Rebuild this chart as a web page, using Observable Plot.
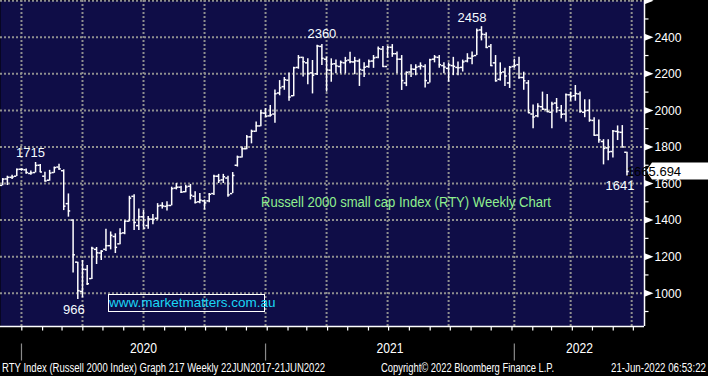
<!DOCTYPE html>
<html><head><meta charset="utf-8">
<script src="https://cdn.jsdelivr.net/npm/d3@7"></script>
<script src="https://cdn.jsdelivr.net/npm/@observablehq/plot@0.6"></script>
<style>
html,body{margin:0;padding:0;background:#000;}
#wrap{position:relative;width:708px;height:376px;overflow:hidden;background:#000;font-family:"Liberation Sans",Arial,sans-serif;}
#wrap svg{position:absolute;left:0;top:0;}
.ov{position:absolute;white-space:nowrap;line-height:1;transform-origin:0 0;}
</style></head><body>
<div id="wrap"></div>
<script>
// ---------- DATA (weekly OHLC, Russell 2000 RTY) ----------
const weekEnding = [
"2019-11-29","2019-12-06","2019-12-13","2019-12-20","2019-12-27",
"2020-01-03","2020-01-10","2020-01-17","2020-01-24","2020-01-31","2020-02-07","2020-02-14","2020-02-21","2020-02-28",
"2020-03-06","2020-03-13","2020-03-20","2020-03-27","2020-04-03","2020-04-10","2020-04-17","2020-04-24","2020-05-01",
"2020-05-08","2020-05-15","2020-05-22","2020-05-29","2020-06-05","2020-06-12","2020-06-19","2020-06-26","2020-07-03",
"2020-07-10","2020-07-17","2020-07-24","2020-07-31","2020-08-07","2020-08-14","2020-08-21","2020-08-28","2020-09-04",
"2020-09-11","2020-09-18","2020-09-25","2020-10-02","2020-10-09","2020-10-16","2020-10-23","2020-10-30","2020-11-06",
"2020-11-13","2020-11-20","2020-11-27","2020-12-04","2020-12-11","2020-12-18","2020-12-25",
"2021-01-01","2021-01-08","2021-01-15","2021-01-22","2021-01-29","2021-02-05","2021-02-12","2021-02-19","2021-02-26",
"2021-03-05","2021-03-12","2021-03-19","2021-03-26","2021-04-02","2021-04-09","2021-04-16","2021-04-23","2021-04-30",
"2021-05-07","2021-05-14","2021-05-21","2021-05-28","2021-06-04","2021-06-11","2021-06-18","2021-06-25","2021-07-02",
"2021-07-09","2021-07-16","2021-07-23","2021-07-30","2021-08-06","2021-08-13","2021-08-20","2021-08-27","2021-09-03",
"2021-09-10","2021-09-17","2021-09-24","2021-10-01","2021-10-08","2021-10-15","2021-10-22","2021-10-29","2021-11-05",
"2021-11-12","2021-11-19","2021-11-26","2021-12-03","2021-12-10","2021-12-17","2021-12-24","2021-12-31",
"2022-01-07","2022-01-14","2022-01-21","2022-01-28","2022-02-04","2022-02-11","2022-02-18","2022-02-25","2022-03-04",
"2022-03-11","2022-03-18","2022-03-25","2022-04-01","2022-04-08","2022-04-15","2022-04-22","2022-04-29","2022-05-06",
"2022-05-13","2022-05-20","2022-05-27","2022-06-03","2022-06-10","2022-06-17"];

const openPx = [
1590,1625,1634,1640,1678,
1675,1655,1660,1700,1640,1618,1660,1690,1670,1490,1400,1170,1010,1130,1080,1240,1220,1240,1260,1310,1270,1330,
1394,1530,1370,1418,1370,1405,1410,1480,1475,1480,1575,1580,1555,1585,1530,1500,1505,1505,1545,1640,1620,1630,
1545,1700,1745,1790,1855,1886,1915,1985,
1970,1980,2095,2130,2165,2080,2235,2290,2260,2205,2200,2350,2280,2220,2255,2240,2260,2275,2265,2270,2220,2240,
2270,2290,2335,2240,2345,2310,2280,2150,2210,2225,2240,2240,2150,2280,2290,2245,2230,2245,2235,2235,2270,2285,
2300,2440,2415,2350,2260,2170,2210,2150,2240,
2250,2180,2150,1980,1970,2020,2005,1990,2040,2000,1980,2085,2080,2090,1990,2000,1945,1865,1830,1795,1775,1885,1880,1771];

const highPx = [
1627,1640,1645,1680,1680,
1679,1668,1715,1704,1662,1672,1690,1706,1675,1543,1400,1170,1179,1152,1252,1250,1233,1350,1335,1325,1352,1395,
1530,1538,1461,1453,1420,1430,1490,1495,1500,1580,1600,1585,1590,1595,1555,1545,1510,1545,1645,1650,1650,1640,
1660,1750,1800,1863,1892,1936,1999,2010,
2027,2112,2163,2180,2205,2236,2300,2291,2282,2273,2356,2360,2291,2282,2275,2270,2290,2318,2290,2280,2260,2275,
2300,2346,2350,2350,2360,2320,2300,2210,2250,2250,2260,2250,2280,2300,2300,2260,2260,2290,2265,2275,2310,2320,
2445,2458,2425,2360,2300,2260,2230,2240,2280,
2291,2209,2163,2030,2036,2100,2087,2045,2065,2027,2090,2100,2136,2100,2058,2058,1960,1948,1840,1839,1890,1915,1917,1771];

const lowPx = [
1588,1589,1622,1638,1667,
1651,1645,1658,1660,1609,1613,1656,1672,1452,1416,1110,966,975,1042,1075,1157,1179,1228,1237,1217,1265,1320,
1390,1343,1343,1355,1350,1375,1400,1460,1450,1478,1565,1545,1550,1510,1488,1490,1455,1495,1535,1600,1600,1525,
1545,1690,1740,1785,1817,1881,1910,1960,
1963,1930,2080,2110,2050,2075,2225,2182,2140,2090,2191,2245,2100,2154,2200,2200,2200,2255,2195,2131,2180,2230,
2230,2282,2236,2285,2290,2200,2109,2130,2180,2190,2220,2123,2150,2260,2230,2200,2154,2190,2190,2210,2260,2250,
2300,2380,2340,2240,2155,2160,2130,2120,2230,
2170,2110,1985,1900,1960,2000,1990,1899,1985,1954,1935,2050,2050,1985,1960,1935,1860,1820,1702,1725,1740,1835,1799,1641];

const closePx = [
1624,1634,1636,1677,1678,
1660,1658,1699,1663,1614,1657,1687,1680,1476,1450,1210,1014,1131,1052,1246,1221,1230,1260,1317,1251,1327,1394,
1520,1387,1418,1356,1406,1403,1477,1477,1480,1572,1580,1553,1581,1536,1497,1509,1494,1541,1640,1616,1637,1538,
1644,1745,1790,1855,1886,1915,1986,1968,
1975,2091,2123,2168,2073,2233,2289,2266,2201,2192,2352,2285,2221,2253,2243,2263,2271,2266,2271,2224,2236,2268,
2287,2338,2240,2345,2310,2280,2163,2208,2226,2236,2245,2163,2277,2292,2250,2237,2249,2241,2233,2265,2286,2297,
2437,2417,2344,2245,2162,2206,2188,2236,2245,
2180,2162,1987,1964,2023,2007,1993,2035,2015,1979,2086,2077,2092,1995,1998,1947,1864,1839,1792,1773,1887,1882,1800,1665.694];

const yLabelTicks = [1000,1200,1400,1600,1800,2000,2200,2400];
const yGridTicks  = [1000,1200,1400,1600,1800,2000,2200,2400,2600];
const yMinorTicks = [900,1100,1300,1500,1700,1900,2100,2300,2500];
const yearLabels  = ["2020","2021","2022"];

const annHighLabels = ["1715","2360","2458"];
const annHighDates  = ["2020-01-17","2021-03-19","2021-11-12"];
const annHighValues = [1715,2360,2458];
const annLowLabels  = ["966","1641"];
const annLowDates   = ["2020-03-20","2022-06-17"];
const annLowValues  = [966,1641];

const lastPrice = "1665.694";
const chartTitle = "Russell 2000 small cap Index (RTY) Weekly Chart";
const website = "www.marketmatters.com.au";
const captionLeft = "RTY Index (Russell 2000 Index) Graph 217  Weekly 22JUN2017-21JUN2022";
const captionMid = "Copyright\u00A9 2022 Bloomberg Finance L.P.";
const captionRight = "21-Jun-2022 06:53:22";

// ---------- BUILD ----------
const DAY = 864e5;
const NAVY = "#0f0d47";
const GRID = "#8f8f8f";
const FONT = "\"Liberation Sans\", Arial, sans-serif";
const bars = weekEnding.map((d, i) => ({
  date: new Date(d + "T00:00:00Z"), open: openPx[i], high: highPx[i], low: lowPx[i], close: closePx[i]
}));
const t0 = bars[0].date.getTime() - 3.28 * DAY;
const xDomain = [new Date(t0), new Date(t0 + 960.4 * DAY)];
const yDomain = [818, 2601];

const lastFridayBefore = (y, m) => d3.utcFriday.floor(new Date(Date.UTC(y, m, 1) - DAY));
const quarterGrid = d3.utcMonth.every(3).range(new Date(Date.UTC(2020,0,1)), new Date(Date.UTC(2022,7,1)))
  .map(d => lastFridayBefore(d.getUTCFullYear(), d.getUTCMonth()));
const monthTicks = d3.utcMonth.range(new Date(Date.UTC(2020,0,1)), new Date(Date.UTC(2022,7,1)))
  .map(d => new Date(d.getTime() - 4.5 * DAY));
const yearSeps = [2020, 2021, 2022].map(y => lastFridayBefore(y, 0));
const yearEdges = [...yearSeps, xDomain[1]];
const yearLabelData = yearLabels.map((t, i) => ({
  text: t, date: new Date((yearEdges[i].getTime() + yearEdges[i + 1].getTime()) / 2)
}));
const highAnn = annHighLabels.map((t, i) => ({text: t, date: new Date(annHighDates[i] + "T00:00:00Z"), value: annHighValues[i]}));
const lowAnn = annLowLabels.map((t, i) => ({text: t, date: new Date(annLowDates[i] + "T00:00:00Z"), value: annLowValues[i]}));

const triSym = {draw(ctx) { ctx.moveTo(0, -3.5); ctx.lineTo(9, 0); ctx.lineTo(0, 3.5); ctx.closePath(); }};
const minorSym = {draw(ctx) { ctx.moveTo(0, 0); ctx.lineTo(4, 0); }};
const downTick = {draw(ctx) { ctx.moveTo(0, 0); ctx.lineTo(0, 4); }};
const yearSepSym = {draw(ctx) { ctx.moveTo(0, 17); ctx.lineTo(0, 34); }};

const annText = (data, anchor, dx, dy) => Plot.text(data, {
  x: "date", y: "value", text: "text", dx, dy, lineAnchor: anchor,
  fill: "#f4fbff", fontSize: 13, fontFamily: FONT
});

const chart = Plot.plot({
  width: 708, height: 376,
  marginLeft: 0, marginRight: 64, marginTop: 0, marginBottom: 50,
  x: {type: "utc", domain: xDomain, axis: null},
  y: {domain: yDomain, axis: null},
  style: {background: "#000", fontFamily: FONT, overflow: "visible"},
  marks: [
    Plot.frame({fill: NAVY, stroke: "none"}),
    Plot.ruleY(yGridTicks, {stroke: GRID, strokeWidth: 2, strokeDasharray: "2,2"}),
    Plot.ruleX(quarterGrid, {stroke: GRID, strokeWidth: 2, strokeDasharray: "2,2"}),
    // OHLC bars
    Plot.ruleX(bars, {x: "date", y1: "low", y2: "high", stroke: "#fff", strokeWidth: 1.5}),
    Plot.ruleY(bars, {y: "open", x1: d => new Date(d.date.getTime() - 3.4 * DAY), x2: "date", stroke: "#fff", strokeWidth: 1.5}),
    Plot.ruleY(bars, {y: "close", x1: "date", x2: d => new Date(d.date.getTime() + 3.4 * DAY), stroke: "#fff", strokeWidth: 1.5}),
    // axis lines
    Plot.ruleX([xDomain[1]], {stroke: "#fff", strokeWidth: 1.5}),
    Plot.ruleY([yDomain[0]], {stroke: "#fff", strokeWidth: 1.5}),
    // right axis ticks & labels
    Plot.dot(yMinorTicks, {y: d => d, frameAnchor: "right", symbol: minorSym, stroke: "#fff", fill: "none", strokeWidth: 1.2}),
    Plot.dot(yGridTicks, {y: d => d, frameAnchor: "right", symbol: triSym, fill: "#fff", stroke: "none"}),
    Plot.text(yLabelTicks, {y: d => d, frameAnchor: "right", dx: 10, textAnchor: "start", text: d => String(d),
      fill: "#fff", fontSize: 13.5, fontFamily: FONT, className: "ylab"}),
    // bottom axis
    Plot.dot(monthTicks, {x: d => d, frameAnchor: "bottom", symbol: downTick, stroke: "#fff", fill: "none", strokeWidth: 1.2}),
    Plot.dot(yearSeps, {x: d => d, frameAnchor: "bottom", symbol: yearSepSym, stroke: "#8a8a8a", fill: "none", strokeWidth: 1.2}),
    Plot.text(yearLabelData, {x: "date", frameAnchor: "bottom", dy: 26, text: "text", fill: "#fff", fontSize: 14.5, fontFamily: FONT, className: "yrlab"}),
    // annotations
    annText([highAnn[0]], "bottom", -5, -5),
    annText([highAnn[1]], "bottom", 0, -7),
    annText([highAnn[2]], "bottom", -9.5, -5),
    annText([lowAnn[0]], "top", -4, 5),
    annText([lowAnn[1]], "top", -7, 5)
  ]
});

const wrap = document.getElementById("wrap");
wrap.appendChild(chart);

// narrow the axis/year labels a little, like the terminal font
d3.select(chart).selectAll(".ylab text").attr("textLength", 27).attr("lengthAdjust", "spacingAndGlyphs");
d3.select(chart).selectAll(".yrlab text").attr("textLength", 27).attr("lengthAdjust", "spacingAndGlyphs");

// last-price tag, positioned with the chart's own scales
const yS = chart.scale("y"), xS = chart.scale("x");
const yp = yS.apply(closePx[closePx.length - 1]);
const xr = xS.apply(xDomain[1]);
const svg = d3.select(chart);
svg.append("path")
  .attr("d", `M${xr + 2},${yp} L${xr + 8},${yp - 8.5} L708,${yp - 8.5} L708,${yp + 8.5} L${xr + 8},${yp + 8.5} Z`)
  .attr("fill", "#fff");
svg.append("text").attr("x", xr + 10).attr("y", yp + 4.8).attr("fill", "#000")
  .attr("font-size", 13).attr("font-family", FONT).text(lastPrice);

// overlays
function ov(text, css, fitWidth) {
  const el = document.createElement("div");
  el.className = "ov"; el.textContent = text;
  Object.assign(el.style, css);
  wrap.appendChild(el);
  if (fitWidth) {
    const w = el.getBoundingClientRect().width;
    if (w > 0) el.style.transform = `scaleX(${fitWidth / w})`;
  }
  return el;
}
ov(chartTitle, {left: "261px", top: "195px", color: "#8ff08f", fontSize: "14px"}, 290);
ov(website, {left: "108px", top: "294px", width: "155px", height: "16px", border: "1px solid #fff",
  color: "#1ad6f5", fontSize: "13.5px", lineHeight: "16px", textAlign: "center"});
ov(captionLeft, {left: "2px", top: "362px", color: "#fff", fontSize: "12px"}, 323);
ov(captionMid, {left: "381px", top: "362px", color: "#fff", fontSize: "12px"}, 173);
ov(captionRight, {left: "611px", top: "362px", color: "#fff", fontSize: "12px"}, 95);
</script></body></html>
